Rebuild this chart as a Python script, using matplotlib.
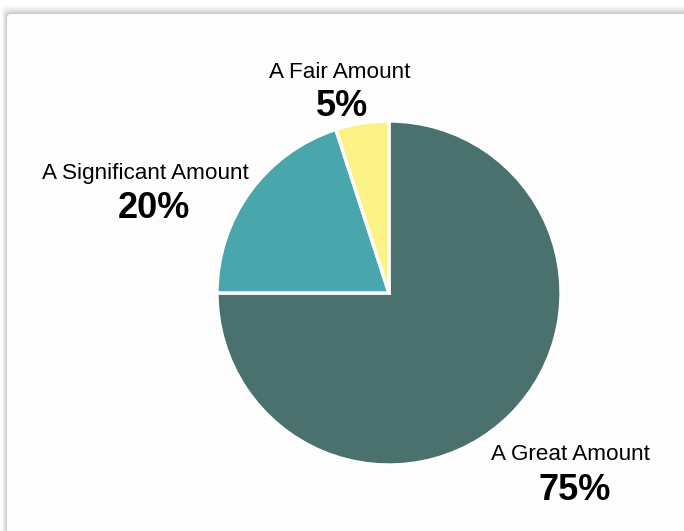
import matplotlib
matplotlib.use("Agg")
import matplotlib.pyplot as plt
from matplotlib.patches import FancyBboxPatch

categories = ["A Great Amount", "A Significant Amount", "A Fair Amount"]
values = [75, 20, 5]
colors = ["#4a716d", "#4aa6ad", "#fdf285"]

W, H = 684, 531
fig = plt.figure(figsize=(W / 100, H / 100), dpi=100)
fig.patch.set_facecolor("white")
ax = fig.add_axes([0, 0, 1, 1])
ax.set_xlim(0, W)
ax.set_ylim(0, H)
ax.axis("off")

# card shadow
for i in range(10):
    off = 10 - i
    a = 0.008 + 0.003 * i
    ax.add_patch(FancyBboxPatch((7 - off * 0.6, -50), W + 60, H - 14 + 50 + off * 0.9,
                                boxstyle="round,pad=0,rounding_size=6",
                                fc=(0, 0, 0, a), ec="none", zorder=0))
ax.add_patch(FancyBboxPatch((7, -50), W + 60, H - 14 + 50,
                            boxstyle="round,pad=0,rounding_size=4",
                            fc="#fdfdfd", ec="none", zorder=1))

cx, cy, r = 389, H - 293, 172
wedges, _ = ax.pie(values, colors=colors, startangle=90, counterclock=False,
                   center=(cx, cy), radius=r, frame=True,
                   wedgeprops=dict(edgecolor="white", linewidth=2.4, zorder=3))
for w in wedges:
    w.set_zorder(3)
ax.set_xlim(0, W)
ax.set_ylim(0, H)
ax.set_aspect("auto")
ax.axis("off")

label_pos = [(570, H - 454), (145, H - 173), (340, H - 73)]
pct_pos = [(575, H - 490), (154, H - 209), (342, H - 106)]
font = "Liberation Sans"
for cat, v, lp, pp in zip(categories, values, label_pos, pct_pos):
    ax.text(lp[0], lp[1], cat, ha="center", va="center", fontsize=16.2,
            family=font, color="black", zorder=5)
    ax.text(pp[0], pp[1], f"{v}%", ha="center", va="center", fontsize=26,
            fontweight="bold", family=font, color="black", zorder=5)

fig.savefig("out.png", dpi=100, facecolor="white")
